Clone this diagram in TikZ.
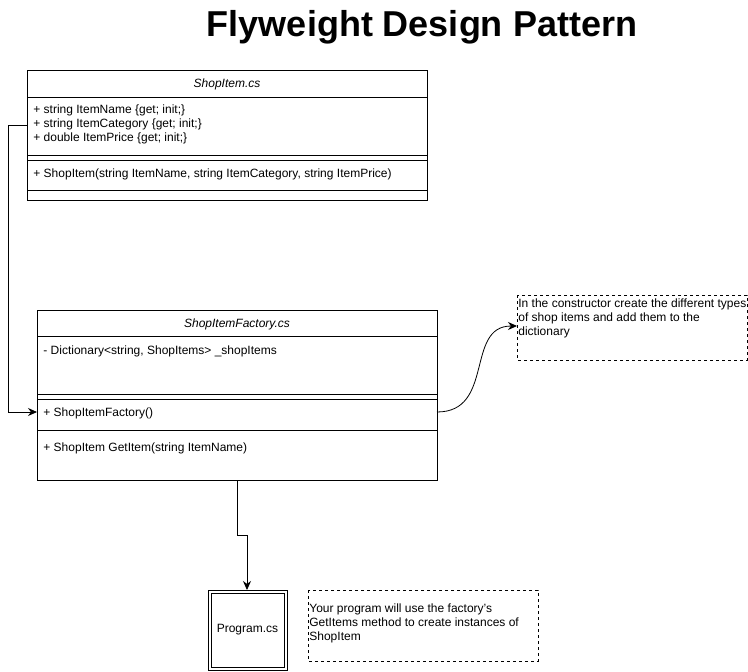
\documentclass[tikz,border=0pt]{standalone}
\usepackage{fontspec}
\setmainfont{Liberation Sans}
\usetikzlibrary{arrows.meta}
\tikzset{
    member/.style={anchor=west, inner sep=0pt, font=\fontsize{12}{14}\selectfont},
    header/.style={inner sep=0pt, font=\fontsize{12}{14}\selectfont\itshape},
    notetext/.style={anchor=north west, inner sep=0pt, align=left, font=\fontsize{12}{14}\selectfont},
    notebox/.style={dashed, line width=0.6pt},
    link/.style={-{Stealth[length=9pt, width=8pt]}}
}
\begin{document}
\begin{tikzpicture}[x=1pt, y=-1pt, line width=0.8pt]
            \useasboundingbox (0,0) rectangle (748,672);
            % ShopItem.cs
            \node  (0) at (27, 70) {};
            \node  (1) at (427, 200) {};
            \node  (2) at (27, 97) {};
            \node  (3) at (427, 97) {};
            \node  (4) at (27, 155) {};
            \node  (5) at (427, 155) {};
            \node  (6) at (27, 160) {};
            \node  (7) at (427, 160) {};
            \node  (8) at (27, 190) {};
            \node  (9) at (427, 190) {};
            % ShopItemFactory.cs
            \node  (10) at (37, 310) {};
            \node  (11) at (437, 480) {};
            \node  (12) at (37, 336) {};
            \node  (13) at (437, 336) {};
            \node  (14) at (37, 394) {};
            \node  (15) at (437, 394) {};
            \node  (16) at (37, 399) {};
            \node  (17) at (437, 399) {};
            \node  (18) at (37, 430) {};
            \node  (19) at (437, 430) {};
            % connectors
            \node  (20) at (27, 125) {};
            \node  (21) at (8, 125) {};
            \node  (22) at (8, 412) {};
            \node  (23) at (37, 412) {};
            \node  (24) at (437, 412) {};
            \node  (25) at (517, 326) {};
            \node  (28) at (237, 480) {};
            \node  (29) at (237, 535) {};
            \node  (30) at (247, 535) {};
            \node  (31) at (247, 590) {};
            % notes and Program.cs
            \node  (26) at (517, 295) {};
            \node  (27) at (747, 360) {};
            \node  (32) at (208, 590) {};
            \node  (33) at (287, 670) {};
            \node  (34) at (211, 593) {};
            \node  (35) at (284, 667) {};
            \node  (36) at (308, 590) {};
            \node  (37) at (538, 661) {};
            % texts
            \node  (40) at (422, 27) {\fontsize{36}{40}\selectfont\bfseries Flyweight Design Pattern};
            \node [header] (41) at (227, 84) {ShopItem.cs};
            \node [member] (42) at (33, 110) {+ string ItemName \{get; init;\}};
            \node [member] (43) at (33, 124) {+ string ItemCategory \{get; init;\}};
            \node [member] (44) at (33, 138) {+ double ItemPrice \{get; init;\}};
            \node [member] (45) at (33, 174) {+ ShopItem(string ItemName, string ItemCategory, string ItemPrice)};
            \node [header] (46) at (237, 324) {ShopItemFactory.cs};
            \node [member] (47) at (43, 351) {- Dictionary<string, ShopItems> \_shopItems};
            \node [member] (48) at (43, 413) {+ ShopItemFactory()};
            \node [member] (49) at (43, 448) {+ ShopItem GetItem(string ItemName)};
            \node [notetext] (50) at (518, 298) {In the constructor create the different types\\of shop items and add them to the\\dictionary};
            \node [member, anchor=center] (51) at (247.5, 630) {Program.cs};
            \node [notetext] (52) at (309, 603) {Your program will use the factory's\\GetItems method to create instances of\\ShopItem};
            \draw (0.center) rectangle (1.center);
            \draw (2.center) to (3.center);
            \draw (4.center) to (5.center);
            \draw (6.center) to (7.center);
            \draw (8.center) to (9.center);
            \draw (10.center) rectangle (11.center);
            \draw (12.center) to (13.center);
            \draw (14.center) to (15.center);
            \draw (16.center) to (17.center);
            \draw (18.center) to (19.center);
            \draw (32.center) rectangle (33.center);
            \draw (34.center) rectangle (35.center);
            \draw [notebox] (26.center) rectangle (27.center);
            \draw [notebox] (36.center) rectangle (37.center);

            \draw [link] (20.center) to (21.center) to (22.center) to (23.center);
            \draw [link] (24.center) .. controls (495, 412) and (465, 326) .. (25.center);
            \draw [link] (28.center) to (29.center) to (30.center) to (31.center);
    \end{tikzpicture}
\end{document}
